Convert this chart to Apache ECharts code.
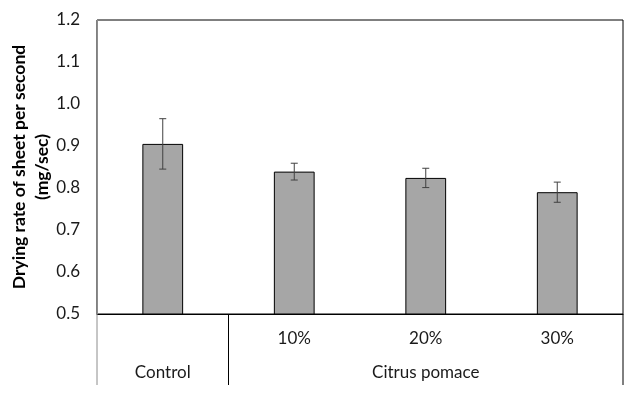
<!DOCTYPE html>
<html>
<head>
<meta charset="utf-8">
<script src="https://cdn.jsdelivr.net/npm/echarts@6/dist/echarts.min.js"></script>
<style>html,body{margin:0;padding:0;background:#fff}#c{width:637px;height:401px}</style>
</head>
<body>
<div id="c"></div>
<script>
const categories = ['', '10%', '20%', '30%'];
const values = [0.905, 0.839, 0.824, 0.790];
const errors = [0.060, 0.020, 0.023, 0.024];
const groupNames = ['Control', 'Citrus pomace'];
const groupRanges = [[0, 0], [1, 3]];
const yTicks = { min: 0.5, max: 1.2, interval: 0.1 };

const FONT = 'Lato, "Open Sans", sans-serif';
const chart = echarts.init(document.getElementById('c'), null, { renderer: 'canvas' });

chart.setOption({
  animation: false,
  backgroundColor: '#fff',
  grid: { left: 97, right: 14, top: 20, bottom: 87, show: true, borderColor: '#000', borderWidth: 1,
          containLabel: false, outerBoundsMode: 'none' },
  xAxis: {
    type: 'category',
    data: categories,
    axisLine: { show: true, lineStyle: { color: '#000', width: 1 } },
    axisTick: { show: false },
    axisLabel: { margin: 16, fontSize: 17, color: '#1a1a1a', fontFamily: FONT }
  },
  yAxis: {
    type: 'value',
    min: yTicks.min, max: yTicks.max, interval: yTicks.interval,
    splitLine: { show: false },
    axisLine: { show: true, lineStyle: { color: '#8c8c8c', width: 1 } },
    axisTick: { show: false },
    axisLabel: { margin: 17, fontSize: 17, color: '#1a1a1a', fontFamily: FONT, formatter: v => v.toFixed(1) },
    name: 'Drying rate of sheet per second\n(mg/sec)',
    nameLocation: 'middle',
    nameRotate: 90,
    nameGap: 43,
    nameMoveOverlap: false,
    nameTextStyle: { fontSize: 17.5, fontWeight: 'bold', color: '#000', fontFamily: FONT, lineHeight: 23 }
  },
  series: [
    {
      type: 'bar',
      data: values,
      barWidth: '31%',
      itemStyle: { color: '#a6a6a6', borderColor: '#000', borderWidth: 1 }
    },
    {
      type: 'custom',
      data: values.map((v, i) => [i, v, errors[i]]),
      encode: { x: 0, y: 1 },
      z: 5,
      renderItem: function (params, api) {
        const i = api.value(0), v = api.value(1), e = api.value(2);
        const top = api.coord([i, v + e]);
        const bot = api.coord([i, v - e]);
        const cw = 3.5;
        const st = { stroke: '#404040', lineWidth: 1 };
        return {
          type: 'group',
          children: [
            { type: 'line', shape: { x1: top[0], y1: top[1], x2: bot[0], y2: bot[1] }, style: st },
            { type: 'line', shape: { x1: top[0] - cw, y1: top[1], x2: top[0] + cw, y2: top[1] }, style: st },
            { type: 'line', shape: { x1: bot[0] - cw, y1: bot[1], x2: bot[0] + cw, y2: bot[1] }, style: st }
          ]
        };
      }
    },
    {
      type: 'custom',
      data: groupRanges.map(r => [r[0], r[1]]),
      encode: { x: 0 },
      clip: false,
      silent: true,
      renderItem: function (params, api) {
        const s = api.value(0), e = api.value(1);
        const bw = api.size([1, 0])[0];
        const y0 = api.coord([s, yTicks.min])[1];
        const x0 = api.coord([s, yTicks.min])[0] - bw / 2;
        const x1 = api.coord([e, yTicks.min])[0] + bw / 2;
        const len = 71;
        const children = [
          { type: 'line', shape: { x1: x0, y1: y0, x2: x0, y2: y0 + len },
            style: { stroke: params.dataIndex === 0 ? '#8c8c8c' : '#000', lineWidth: 1 } },
          { type: 'text', x: (x0 + x1) / 2, y: y0 + 59,
            style: { text: groupNames[params.dataIndex], fill: '#1a1a1a', fontSize: 17, fontFamily: FONT, align: 'center', verticalAlign: 'middle' } }
        ];
        if (params.dataIndex === groupRanges.length - 1) {
          children.push({ type: 'line', shape: { x1: x1, y1: y0, x2: x1, y2: y0 + len }, style: { stroke: '#000', lineWidth: 1 } });
        }
        return { type: 'group', children: children };
      }
    }
  ]
});
</script>
</body>
</html>
